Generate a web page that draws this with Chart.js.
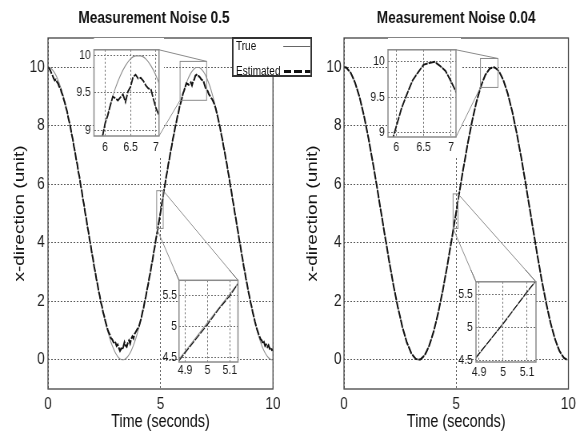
<!DOCTYPE html>
<html><head><meta charset="utf-8">
<script src="https://cdn.jsdelivr.net/npm/chart.js@4.4.1/dist/chart.umd.min.js"></script>
<style>
html,body{margin:0;padding:0;background:#fff;width:580px;height:435px;overflow:hidden;}
#wrap{position:absolute;left:0;top:0;width:725px;height:435px;transform:scaleX(0.8);transform-origin:0 0;}
#wrap canvas{position:absolute;}
#legend{position:absolute;left:290px;top:37px;width:96px;height:36px;border:2px solid #333;background:#fff;z-index:3;font-family:'Liberation Sans',Arial,sans-serif;font-size:12.5px;color:#111;}
#legend .lt{position:absolute;left:3px;line-height:14px;white-space:nowrap;}
#legend .solid{position:absolute;left:62px;top:7px;width:34px;height:0;border-top:1px solid #666;}
#legend .dash{position:absolute;left:63px;top:31px;width:33px;height:3px;background:repeating-linear-gradient(to right,#111 0 9px,transparent 9px 13px);}
</style></head>
<body>
<div id="wrap">
  <canvas id="mainL" width="385" height="435"></canvas>
  <canvas id="mainR" width="363" height="435"></canvas>
  <canvas id="insUL" width="110" height="118"></canvas>
  <canvas id="insUR" width="116" height="118"></canvas>
  <canvas id="insLL" width="104" height="112"></canvas>
  <canvas id="insLR" width="104" height="112"></canvas>
  <div id="legend">
    <span class="lt" style="top:0px">True</span><div class="solid"></div>
    <span class="lt" style="top:25px">Estimated</span><div class="dash"></div>
  </div>
</div>
<script>
// ---------------- DATA ----------------
const plotTitles = ['Measurement Noise 0.5', 'Measurement Noise 0.04'];
const seriesNames = ['True', 'Estimated'];
const xAxisTitle = 'Time (seconds)';
const yAxisTitle = 'x-direction (unit)';

const xTicks = [0, 5, 10];
const xTickLabels = ['0', '5', '10'];
const yTicks = [0, 2, 4, 6, 8, 10];
const yTickLabels = ['0', '2', '4', '6', '8', '10'];

const peakTicksX = [6, 6.5, 7];
const peakTickLabelsX = ['6', '6.5', '7'];
const peakTicksY = [9, 9.5, 10];
const peakTickLabelsY = ['9', '9.5', '10'];
const midTicksX = [4.9, 5, 5.1];
const midTickLabelsX = ['4.9', '5', '5.1'];
const midTicksY = [4.5, 5, 5.5];
const midTickLabelsY = ['4.5', '5', '5.5'];

// time samples (s)
const timeCoarse = [
  0,0.1,0.2,0.3,0.4,0.5,0.6,0.7,0.8,0.9,
  1,1.1,1.2,1.3,1.4,1.5,1.6,1.7,1.8,1.9,
  2,2.1,2.2,2.3,2.4,2.5,2.6,2.7,2.8,2.9,
  3,3.1,3.2,3.3,3.4,3.5,3.6,3.7,3.8,3.9,
  4,4.1,4.2,4.3,4.4,4.5,4.6,4.7,4.8,4.9,
  5,5.1,5.2,5.3,5.4,5.5,5.6,5.7,5.8,5.9,
  6,6.1,6.2,6.3,6.4,6.5,6.6,6.7,6.8,6.9,
  7,7.1,7.2,7.3,7.4,7.5,7.6,7.7,7.8,7.9,
  8,8.1,8.2,8.3,8.4,8.5,8.6,8.7,8.8,8.9,
  9,9.1,9.2,9.3,9.4,9.5,9.6,9.7,9.8,9.9,
  10
];
const timeFine = [
  0,0.05,0.1,0.15,0.2,0.25,0.3,0.35,0.4,0.45,
  0.5,0.55,0.6,0.65,0.7,0.75,0.8,0.85,0.9,0.95,
  1,1.05,1.1,1.15,1.2,1.25,1.3,1.35,1.4,1.45,
  1.5,1.55,1.6,1.65,1.7,1.75,1.8,1.85,1.9,1.95,
  2,2.05,2.1,2.15,2.2,2.25,2.3,2.35,2.4,2.45,
  2.5,2.55,2.6,2.65,2.7,2.75,2.8,2.85,2.9,2.95,
  3,3.05,3.1,3.15,3.2,3.25,3.3,3.35,3.4,3.45,
  3.5,3.55,3.6,3.65,3.7,3.75,3.8,3.85,3.9,3.95,
  4,4.05,4.1,4.15,4.2,4.25,4.3,4.35,4.4,4.45,
  4.5,4.55,4.6,4.65,4.7,4.75,4.8,4.85,4.9,4.95,
  5,5.05,5.1,5.15,5.2,5.25,5.3,5.35,5.4,5.45,
  5.5,5.55,5.6,5.65,5.7,5.75,5.8,5.85,5.9,5.95,
  6,6.05,6.1,6.15,6.2,6.25,6.3,6.35,6.4,6.45,
  6.5,6.55,6.6,6.65,6.7,6.75,6.8,6.85,6.9,6.95,
  7,7.05,7.1,7.15,7.2,7.25,7.3,7.35,7.4,7.45,
  7.5,7.55,7.6,7.65,7.7,7.75,7.8,7.85,7.9,7.95,
  8,8.05,8.1,8.15,8.2,8.25,8.3,8.35,8.4,8.45,
  8.5,8.55,8.6,8.65,8.7,8.75,8.8,8.85,8.9,8.95,
  9,9.05,9.1,9.15,9.2,9.25,9.3,9.35,9.4,9.45,
  9.5,9.55,9.6,9.65,9.7,9.75,9.8,9.85,9.9,9.95,
  10
];
// true x-position (unit), sampled on timeCoarse
const trueValues = [
  10.00,9.98,9.91,9.80,9.65,9.45,9.22,8.95,8.64,8.30,
  7.93,7.53,7.11,6.67,6.23,5.76,5.29,4.82,4.35,3.89,
  3.43,2.99,2.57,2.17,1.80,1.46,1.13,0.85,0.60,0.40,
  0.23,0.11,0.03,0.00,0.01,0.07,0.17,0.31,0.50,0.72,
  0.99,1.28,1.62,1.98,2.37,2.78,3.21,3.66,4.12,4.59,
  5.06,5.53,6.00,6.46,6.90,7.33,7.74,8.12,8.48,8.80,
  9.09,9.34,9.56,9.73,9.86,9.95,9.99,9.99,9.95,9.86,
  9.73,9.55,9.34,9.08,8.79,8.47,8.11,7.73,7.32,6.90,
  6.45,5.99,5.52,5.05,4.58,4.11,3.65,3.20,2.77,2.36,
  1.98,1.61,1.28,0.98,0.72,0.49,0.31,0.17,0.07,0.01,
  0.00
];
// estimate with measurement noise 0.5, sampled on timeFine
const estNoise05 = [
  10.00,9.96,9.90,9.80,9.72,9.62,9.55,9.58,9.50,9.44,
  9.33,9.30,9.14,9.05,8.90,8.78,8.62,8.49,8.27,8.12,
  7.95,7.72,7.55,7.30,7.12,6.86,6.69,6.42,6.25,5.97,
  5.78,5.50,5.31,5.03,4.84,4.56,4.37,4.10,3.91,3.64,
  3.45,3.19,3.01,2.76,2.59,2.35,2.19,1.96,1.83,1.62,
  1.49,1.32,1.18,1.04,0.93,0.86,0.73,0.70,0.62,0.55,
  0.58,0.47,0.52,0.40,0.30,0.38,0.34,0.45,0.60,0.48,
  0.44,0.58,0.66,0.55,0.72,0.80,0.73,0.88,0.95,1.02,
  1.08,1.16,1.30,1.43,1.63,1.78,2.00,2.16,2.39,2.56,
  2.80,2.98,3.23,3.42,3.68,3.87,4.14,4.33,4.57,4.80,
  5.03,5.28,5.50,5.77,5.98,6.24,6.44,6.70,6.88,7.13,
  7.31,7.55,7.72,7.94,8.10,8.31,8.45,8.66,8.78,8.93,
  9.10,9.20,9.33,9.45,9.43,9.40,9.44,9.48,9.38,9.52,
  9.58,9.71,9.74,9.69,9.70,9.66,9.60,9.56,9.55,9.42,
  9.30,9.22,9.18,9.08,9.02,8.95,8.90,8.82,8.72,8.60,
  8.44,8.28,8.10,7.93,7.71,7.54,7.30,7.12,6.88,6.69,
  6.44,6.24,5.97,5.77,5.50,5.30,5.03,4.83,4.57,4.36,
  4.10,3.90,3.64,3.44,3.19,3.00,2.76,2.58,2.35,2.18,
  1.97,1.82,1.62,1.47,1.30,1.15,1.02,0.90,0.80,0.70,
  0.66,0.55,0.60,0.47,0.52,0.44,0.50,0.38,0.42,0.33,
  0.35
];
// estimate with measurement noise 0.04, sampled on timeCoarse
const estNoise004 = [
  10.00,9.99,9.90,9.81,9.64,9.46,9.21,8.96,8.63,8.31,
  7.92,7.54,7.10,6.68,6.22,5.77,5.28,4.83,4.34,3.90,
  3.42,3.00,2.56,2.18,1.79,1.47,1.12,0.86,0.59,0.41,
  0.22,0.12,0.03,0.01,0.01,0.08,0.16,0.32,0.49,0.73,
  0.98,1.29,1.61,1.99,2.36,2.79,3.20,3.67,4.11,4.60,
  5.05,5.54,5.99,6.47,6.89,7.34,7.73,8.13,8.47,8.81,
  9.08,9.35,9.55,9.74,9.85,9.96,9.98,10.00,9.94,9.87,
  9.72,9.56,9.33,9.09,8.78,8.48,8.10,7.74,7.31,6.91,
  6.44,6.00,5.51,5.06,4.57,4.12,3.64,3.21,2.76,2.37,
  1.97,1.62,1.27,0.99,0.71,0.50,0.30,0.18,0.06,0.02,
  0.01
];

// ---------------- RENDERING ----------------
Chart.defaults.font.family = "'Liberation Sans', Arial, Helvetica, sans-serif";
Chart.defaults.color = '#1c1c1c';

const toPts = (ts, vs) => ts.map((t, i) => ({x: t, y: vs[i]}));

const framePlugin = {
  id: 'frame',
  afterDraw(chart, args, o) {
    const a = chart.chartArea, ctx = chart.ctx;
    ctx.save();
    ctx.strokeStyle = o.color; ctx.lineWidth = o.width;
    ctx.strokeRect(a.left, a.top, a.right - a.left, a.bottom - a.top);
    ctx.restore();
  }
};
const bgPlugin = {
  id: 'insetBg',
  beforeDraw(chart, args, o) {
    const ctx = chart.ctx, a = chart.chartArea;
    ctx.save(); ctx.fillStyle = '#fff';
    if (o.full) ctx.fillRect(a.left, 0, chart.width - a.left, chart.height);
    else ctx.fillRect(a.left, a.top, a.right - a.left, a.bottom - a.top);
    ctx.restore();
  }
};
const marksPlugin = {
  id: 'marks',
  afterDraw(chart) {
    const ctx = chart.ctx, off = chart.$off || {x: 0, y: 0};
    ctx.save();
    ctx.strokeStyle = '#8a8a8a'; ctx.lineWidth = 1;
    (chart.$rects || []).forEach(r => {
      const xs = chart.scales.x, ys = chart.scales.y;
      const l = xs.getPixelForValue(r.x0), rr = xs.getPixelForValue(r.x1);
      const t = ys.getPixelForValue(r.y1), b = ys.getPixelForValue(r.y0);
      ctx.strokeRect(l, t, rr - l, b - t);
    });
    (chart.$segs || []).forEach(s => {
      ctx.beginPath();
      ctx.moveTo(s[0].x - off.x, s[0].y - off.y);
      ctx.lineTo(s[1].x - off.x, s[1].y - off.y);
      ctx.stroke();
    });
    ctx.restore();
  }
};

const mainSpecs = [
  {id: 'mainL', left: 0, top: 0, title: plotTitles[0], titleFull: true, rightSpacer: 43.75,
   padding: {left: 0, right: 0, top: 0, bottom: 0}, yWidth: 60, yTickPad: 4, yTitlePad: 13.6,
   est: () => toPts(timeFine, estNoise05)},
  {id: 'mainR', left: 362, top: 0, title: plotTitles[1], titleFull: false, rightSpacer: 0,
   padding: {left: 0, right: 13.75, top: 0, bottom: 0}, yWidth: 68, yTickPad: 3, yTitlePad: 17.85,
   est: () => toPts(timeCoarse, estNoise004)}
];

function makeMain(spec) {
  const cv = document.getElementById(spec.id);
  cv.style.left = spec.left + 'px'; cv.style.top = spec.top + 'px'; cv.style.zIndex = 1;
  const grid = {color: '#5a5a5a', lineWidth: 1, drawTicks: false};
  const scales = {
    x: {type: 'linear', min: 0, max: 10,
        afterBuildTicks: s => { s.ticks = xTicks.map(v => ({value: v})); },
        afterFit: s => { s.height = 46; },
        ticks: {font: {size: 17}, padding: 5, maxRotation: 0, autoSkip: false, callback: (v, i) => xTickLabels[i]},
        grid: grid, border: {display: false, dash: [2, 2]},
        title: {display: true, text: xAxisTitle, color: '#111', font: {size: 18}, padding: {top: 0, bottom: 2.2}}},
    y: {type: 'linear', min: -1, max: 11,
        afterBuildTicks: s => { s.ticks = yTicks.map(v => ({value: v})); },
        afterFit: s => { s.width = spec.yWidth; },
        ticks: {font: {size: 17}, padding: spec.yTickPad, autoSkip: false, callback: (v, i) => yTickLabels[i]},
        grid: grid, border: {display: false, dash: [2, 2]},
        title: {display: true, text: yAxisTitle, color: '#111', font: {size: 19}, padding: {top: spec.yTitlePad, bottom: 0}}}
  };
  if (spec.rightSpacer) {
    scales.spacer = {type: 'linear', position: 'right', min: 0, max: 1, display: true,
      grid: {display: false, drawTicks: false}, border: {display: false}, ticks: {display: false},
      afterFit: s => { s.width = spec.rightSpacer; }};
  }
  const chart = new Chart(cv, {
    type: 'line',
    data: {datasets: [
      {label: seriesNames[1], data: spec.est(), borderColor: '#111', borderWidth: 2, borderDash: [8, 1.5],
       pointRadius: 0, tension: 0, fill: false},
      {label: seriesNames[0], data: toPts(timeCoarse, trueValues), borderColor: '#8e8e8e', borderWidth: 1.1,
       pointRadius: 0, cubicInterpolationMode: 'monotone', fill: false}
    ]},
    options: {
      responsive: false, animation: false, events: [], devicePixelRatio: 1,
      layout: {padding: spec.padding},
      plugins: {
        legend: {display: false}, tooltip: {enabled: false},
        title: {display: true, text: spec.title, fullSize: spec.titleFull, color: '#111',
                font: {size: 17, weight: 'bold'}, padding: {top: 8, bottom: 9.6}},
        frame: {color: '#444', width: 1.3}
      },
      scales: scales
    },
    plugins: [framePlugin, marksPlugin]
  });
  chart.$off = {x: spec.left, y: spec.top};
  spec.chart = chart;
  return chart;
}

const insetSpecs = [
  {id: 'insUL', plot: 0, left: 95, top: 38, area: {l: 22.5, t: 4, r: 6.25, b: 20}, full: true,
   x: [5.78, 7.06], y: [8.93, 10.07], tx: peakTicksX, lx: peakTickLabelsX, ty: peakTicksY, ly: peakTickLabelsY,
   padX: 4, padY: 4, estW: 1.8, rect: {x0: 5.87, x1: 7.05, y0: 8.87, y1: 10.2}, links: [['TR', 'TR'], ['BR', 'BL']]},
  {id: 'insLL', plot: 0, left: 200, top: 270, area: {l: 23.75, t: 7, r: 6.5, b: 20}, full: false,
   x: [4.873, 5.136], y: [4.42, 5.75], tx: midTicksX, lx: midTickLabelsX, ty: midTicksY, ly: midTickLabelsY,
   padX: 1, padY: 2.5, estW: 1.2, rect: {x0: 4.83, x1: 5.12, y0: 4.49, y1: 5.78}, links: [['TL', 'BL'], ['TR', 'TR']]},
  {id: 'insUR', plot: 1, left: 460, top: 38, area: {l: 25, t: 4, r: 6, b: 19}, full: true,
   x: [5.85, 7.09], y: [8.935, 10.17], tx: peakTicksX, lx: peakTickLabelsX, ty: peakTicksY, ly: peakTickLabelsY,
   padX: 3, padY: 4, estW: 1.8, rect: {x0: 6.08, x1: 6.86, y0: 9.31, y1: 10.3}, links: [['TR', 'TR'], ['BR', 'BL']]},
  {id: 'insLR', plot: 1, left: 572, top: 270, area: {l: 23, t: 7, r: 6, b: 20}, full: false,
   x: [4.887, 5.137], y: [4.47, 5.69], tx: midTicksX, lx: midTickLabelsX, ty: midTicksY, ly: midTickLabelsY,
   padX: 3, padY: 4, estW: 1.2, rect: {x0: 4.86, x1: 5.08, y0: 4.49, y1: 5.67}, links: [['TL', 'BL'], ['TR', 'TR']]}
];

function makeInset(spec) {
  const cv = document.getElementById(spec.id);
  cv.style.left = spec.left + 'px'; cv.style.top = spec.top + 'px'; cv.style.zIndex = 2;
  const grid = {color: '#707070', lineWidth: 1, drawTicks: false};
  const est = spec.plot === 0 ? toPts(timeFine, estNoise05) : toPts(timeCoarse, estNoise004);
  const chart = new Chart(cv, {
    type: 'line',
    data: {datasets: [
      {label: seriesNames[1], data: est, borderColor: '#161616', borderWidth: spec.estW, borderDash: [8, 1.5],
       pointRadius: 0, tension: 0, fill: false, clip: 0},
      {label: seriesNames[0], data: toPts(timeCoarse, trueValues), borderColor: '#8e8e8e', borderWidth: 1.1,
       pointRadius: 0, cubicInterpolationMode: 'monotone', fill: false, clip: 0}
    ]},
    options: {
      responsive: false, animation: false, events: [], devicePixelRatio: 1,
      layout: {padding: {left: 0, top: spec.area.t, right: spec.area.r, bottom: 0}},
      plugins: {legend: {display: false}, tooltip: {enabled: false}, title: {display: false},
                frame: {color: '#8a8a8a', width: 1.5}, insetBg: {full: spec.full}},
      scales: {
        x: {type: 'linear', min: spec.x[0], max: spec.x[1],
            afterBuildTicks: s => { s.ticks = spec.tx.map(v => ({value: v})); },
            afterFit: s => { s.height = spec.area.b; },
            ticks: {font: {size: 13}, padding: spec.padX, maxRotation: 0, autoSkip: false, callback: (v, i) => spec.lx[i]},
            grid: grid, border: {display: false, dash: [2, 2]}},
        y: {type: 'linear', min: spec.y[0], max: spec.y[1],
            afterBuildTicks: s => { s.ticks = spec.ty.map(v => ({value: v})); },
            afterFit: s => { s.width = spec.area.l; },
            ticks: {font: {size: 13}, padding: spec.padY, autoSkip: false, callback: (v, i) => spec.ly[i]},
            grid: grid, border: {display: false, dash: [2, 2]}}
      }
    },
    plugins: [bgPlugin, framePlugin, marksPlugin]
  });
  chart.$off = {x: spec.left, y: spec.top};
  spec.chart = chart;
  return chart;
}

mainSpecs.forEach(makeMain);
insetSpecs.forEach(makeInset);

// zoom rectangles and connector lines
function corner(box, c) { return {x: c[1] === 'L' ? box.l : box.r, y: c[0] === 'T' ? box.t : box.b}; }
insetSpecs.forEach(spec => {
  const main = mainSpecs[spec.plot];
  const mc = main.chart, xs = mc.scales.x, ys = mc.scales.y;
  const rb = {l: xs.getPixelForValue(spec.rect.x0) + main.left, r: xs.getPixelForValue(spec.rect.x1) + main.left,
              t: ys.getPixelForValue(spec.rect.y1) + main.top, b: ys.getPixelForValue(spec.rect.y0) + main.top};
  const a = spec.chart.chartArea;
  const ib = {l: a.left + spec.left, r: a.right + spec.left, t: a.top + spec.top, b: a.bottom + spec.top};
  const segs = spec.links.map(([ic, rc]) => [corner(ib, ic), corner(rb, rc)]);
  mc.$rects = (mc.$rects || []).concat([spec.rect]);
  mc.$segs = (mc.$segs || []).concat(segs);
  spec.chart.$segs = segs;
});
mainSpecs.forEach(s => s.chart.draw());
insetSpecs.forEach(s => s.chart.draw());
</script>
</body></html>
